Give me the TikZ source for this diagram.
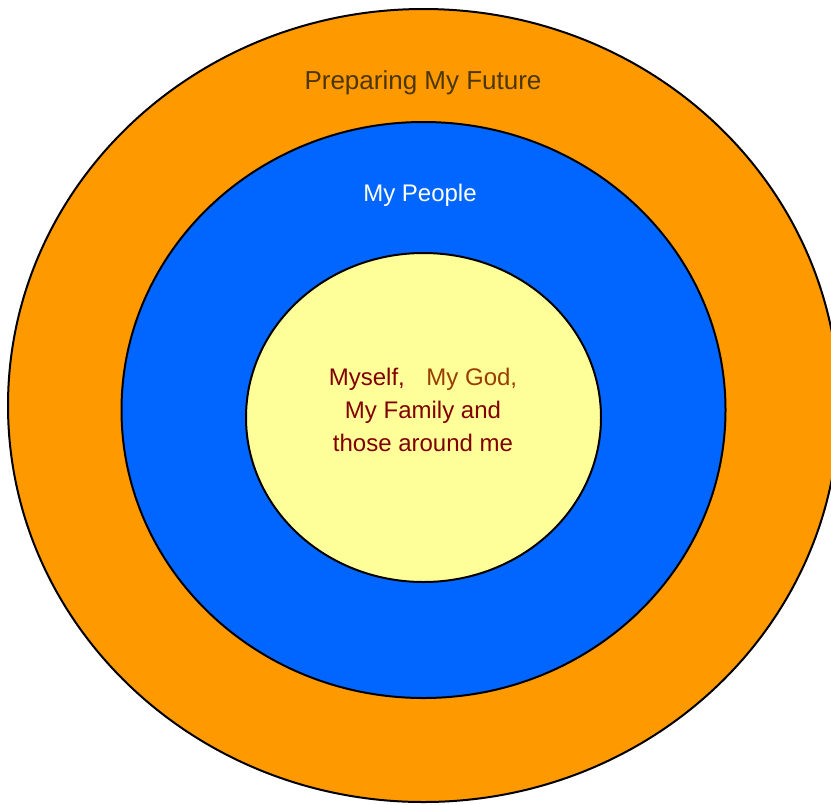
\documentclass[tikz,border=0pt]{standalone}
\usepackage{fontspec}
\setmainfont{Liberation Sans}
\definecolor{ringorange}{RGB}{255, 153, 0}
\definecolor{ringblue}{RGB}{0, 102, 255}
\definecolor{ringyellow}{RGB}{255, 255, 153}
\definecolor{futuretext}{RGB}{77, 55, 0}
\definecolor{selftext}{RGB}{128, 0, 0}
\definecolor{godtext}{RGB}{153, 60, 0}
\usetikzlibrary{shapes.geometric, positioning}
\tikzset{
  ring/.style={ellipse, draw=black, line width=1.5pt, inner sep=0pt, outer sep=0pt},
  ringlabel/.style={font=\fontsize{18}{24.5}\selectfont, align=center}
}

\begin{document}
\begin{tikzpicture}[x=0.75pt, y=-0.75pt]
  \useasboundingbox (0,0) rectangle (831,804);
  % the three rings, largest first
  \node[ring, fill=ringorange, minimum width=623.25pt, minimum height=594.75pt] (future) at (423.5,405.5) {};
  \node[ring, fill=ringblue, minimum width=453pt, minimum height=432pt] (people) at (423.5,410) {};
  \node[ring, fill=ringyellow, minimum width=266.25pt, minimum height=246.75pt] (self) at (423.5,417.5) {};
  % labels
  \node[ringlabel, font=\fontsize{19.5}{24}\selectfont, text=futuretext] (futurelabel) at (423,83) {Preparing My Future};
  \node[ringlabel, text=white] (peoplelabel) at (420,195) {My People};
  \node[ringlabel, text=selftext] (selflabel) at (423,410) {%
    Myself,\hspace{0.9em}{\color{godtext}My God,}\\
    My Family and\\
    those around me};
\end{tikzpicture}
\end{document}
